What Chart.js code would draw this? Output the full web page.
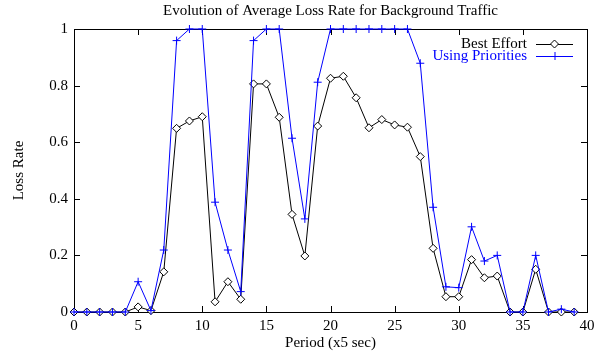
<!DOCTYPE html>
<html>
<head>
<meta charset="utf-8">
<title>Average Loss Rate</title>
<script src="https://cdn.jsdelivr.net/npm/chart.js@4.4.1/dist/chart.umd.min.js"></script>
<style>
html, body { margin: 0; padding: 0; background: #fff; }
canvas { display: block; }
</style>
</head>
<body>
<canvas id="loss-graph" width="609" height="356"></canvas>
<script>
/*************************
DATA
*************************/

const periods = [0, 1, 2, 3, 4, 5, 6, 7, 8, 9, 10, 11, 12, 13, 14, 15, 16, 17, 18, 19,
	20, 21, 22, 23, 24, 25, 26, 27, 28, 29, 30, 31, 32, 33, 34, 35, 36, 37, 38, 39];

const bestEffort = [0, 0, 0, 0, 0, 0.018, 0.005, 0.142, 0.649, 0.675,
	0.69, 0.036, 0.107, 0.045, 0.806, 0.806, 0.688, 0.345, 0.198, 0.657,
	0.826, 0.833, 0.757, 0.651, 0.68, 0.661, 0.653, 0.549, 0.225, 0.054,
	0.054, 0.185, 0.121, 0.127, 0, 0, 0.151, 0, 0, 0];

const usingPriorities = [0, 0, 0, 0, 0, 0.107, 0.005, 0.219, 0.959, 1,
	1, 0.388, 0.219, 0.072, 0.959, 1, 1, 0.614, 0.329, 0.812,
	1, 1, 1, 1, 1, 1, 1, 0.879, 0.37, 0.089,
	0.086, 0.301, 0.18, 0.2, 0, 0, 0.2, 0, 0.01, 0];

const seriesLabels = ['Best Effort', 'Using Priorities'];
const xTicks = [0, 5, 10, 15, 20, 25, 30, 35, 40];
const yTicks = [0, 0.2, 0.4, 0.6, 0.8, 1];
const graphTitle = 'Evolution of Average Loss Rate for Background Traffic';

const black = '#000000';
const blue = '#0000ff';
const fontFamily = '"Liberation Serif", "DejaVu Serif", serif';
const fontSize = 15;

/*************************
PLUGINS
*************************/

//title centred over the plot box rather than the whole canvas
const titlePlugin = {
	id: 'plotTitle',
	afterDraw(chart){
		const ctx = chart.ctx;
		const area = chart.chartArea;
		ctx.save();
		ctx.font = fontSize + 'px ' + fontFamily;
		ctx.fillStyle = black;
		ctx.textAlign = 'center';
		ctx.textBaseline = 'middle';
		ctx.fillText(graphTitle, (area.left + area.right) / 2, area.top - 18);
		ctx.restore();
	}
};

//draws the box round the plot with ticks pointing inwards on all four sides
const framePlugin = {
	id: 'frame',
	beforeDatasetsDraw(chart){
		const ctx = chart.ctx;
		const area = chart.chartArea;
		const xs = chart.scales.x;
		const ys = chart.scales.y;
		const len = 6;
		ctx.save();
		ctx.strokeStyle = black;
		ctx.lineWidth = 1;
		ctx.beginPath();
		xTicks.forEach(v => {
			const px = Math.round(xs.getPixelForValue(v)) + 0.5;
			ctx.moveTo(px, area.bottom);
			ctx.lineTo(px, area.bottom - len);
			ctx.moveTo(px, area.top);
			ctx.lineTo(px, area.top + len);
		});
		yTicks.forEach(v => {
			const py = Math.round(ys.getPixelForValue(v)) + 0.5;
			ctx.moveTo(area.left, py);
			ctx.lineTo(area.left + len, py);
			ctx.moveTo(area.right, py);
			ctx.lineTo(area.right - len, py);
		});
		ctx.stroke();
		ctx.strokeRect(Math.round(area.left) + 0.5, Math.round(area.top) + 0.5,
			Math.round(area.right - area.left), Math.round(area.bottom - area.top));
		ctx.restore();
	}
};

//key in the top right corner: label on the left, line sample with its marker on the right
const keyPlugin = {
	id: 'key',
	afterDatasetsDraw(chart){
		const ctx = chart.ctx;
		const area = chart.chartArea;
		const textRight = area.right - 60;
		const lineStart = area.right - 51;
		const lineEnd = area.right - 14;
		ctx.save();
		ctx.font = fontSize + 'px ' + fontFamily;
		ctx.textAlign = 'right';
		ctx.textBaseline = 'middle';
		chart.data.datasets.forEach((ds, i) => {
			const y = area.top + 15 + i * 12;
			ctx.fillStyle = ds.borderColor;
			ctx.fillText(ds.label, textRight, y);
			ctx.strokeStyle = ds.borderColor;
			ctx.lineWidth = 1;
			ctx.beginPath();
			ctx.moveTo(lineStart, y + 0.5);
			ctx.lineTo(lineEnd, y + 0.5);
			ctx.stroke();
			const cx = (lineStart + lineEnd) / 2;
			const r = ds.pointRadius;
			ctx.beginPath();
			if(ds.pointStyle === 'rectRot'){
				ctx.moveTo(cx, y - r);
				ctx.lineTo(cx + r, y);
				ctx.lineTo(cx, y + r);
				ctx.lineTo(cx - r, y);
				ctx.closePath();
				ctx.fillStyle = '#fff';
				ctx.fill();
			} else {
				ctx.moveTo(cx - r, y + 0.5);
				ctx.lineTo(cx + r, y + 0.5);
				ctx.moveTo(cx + 0.5, y - r);
				ctx.lineTo(cx + 0.5, y + r);
			}
			ctx.stroke();
		});
		ctx.restore();
	}
};

/*************************
LINE GRAPH
*************************/

function ToPoints(values){
	return periods.map((p, i) => ({x: p, y: values[i]}));
}

const lossData = {
	datasets: [{
		label: seriesLabels[0],
		data: ToPoints(bestEffort),
		borderColor: black,
		backgroundColor: '#fff',
		borderWidth: 1,
		pointStyle: 'rectRot',
		pointRadius: 4,
		pointBorderWidth: 1,
		pointBorderColor: black,
		pointBackgroundColor: '#fff',
		tension: 0,
		clip: false,
		order: 2,
	}, {
		label: seriesLabels[1],
		data: ToPoints(usingPriorities),
		borderColor: blue,
		backgroundColor: blue,
		borderWidth: 1,
		pointStyle: 'cross',
		pointRadius: 4,
		pointBorderWidth: 1,
		pointBorderColor: blue,
		tension: 0,
		clip: false,
		order: 1,
	}],
};

Chart.defaults.font.family = fontFamily;
Chart.defaults.font.size = fontSize;
Chart.defaults.color = black;

const lossGraph = new Chart(document.querySelector('#loss-graph').getContext('2d'), {
	type: 'line',
	data: lossData,
	plugins: [framePlugin, keyPlugin, titlePlugin],
	options: {
		responsive: false,
		animation: false,
		events: [],
		layout: {padding: {top: 29, right: 22, bottom: 0, left: 0}},
		plugins: {
			legend: {display: false},
			tooltip: {enabled: false},
			title: {display: false},
		},
		scales: {
			x: {
				type: 'linear',
				min: 0,
				max: 40,
				grid: {display: false, drawTicks: false},
				border: {display: false},
				afterBuildTicks: scale => { scale.ticks = xTicks.map(v => ({value: v})); },
				afterFit: scale => { scale.height = 44; },
				ticks: {padding: 5, maxRotation: 0, autoSkip: false, callback: v => String(v)},
				title: {display: true, text: 'Period (x5 sec)', padding: {top: 0, bottom: 4}},
			},
			y: {
				type: 'linear',
				min: 0,
				max: 1,
				grid: {display: false, drawTicks: false},
				border: {display: false},
				afterBuildTicks: scale => { scale.ticks = yTicks.map(v => ({value: v})); },
				afterFit: scale => { scale.width = 74; },
				ticks: {padding: 6, autoSkip: false, callback: v => String(Math.round(v * 10) / 10)},
				title: {display: true, text: 'Loss Rate', padding: {top: 10, bottom: 0}},
			},
		},
	},
});
</script>
</body>
</html>
